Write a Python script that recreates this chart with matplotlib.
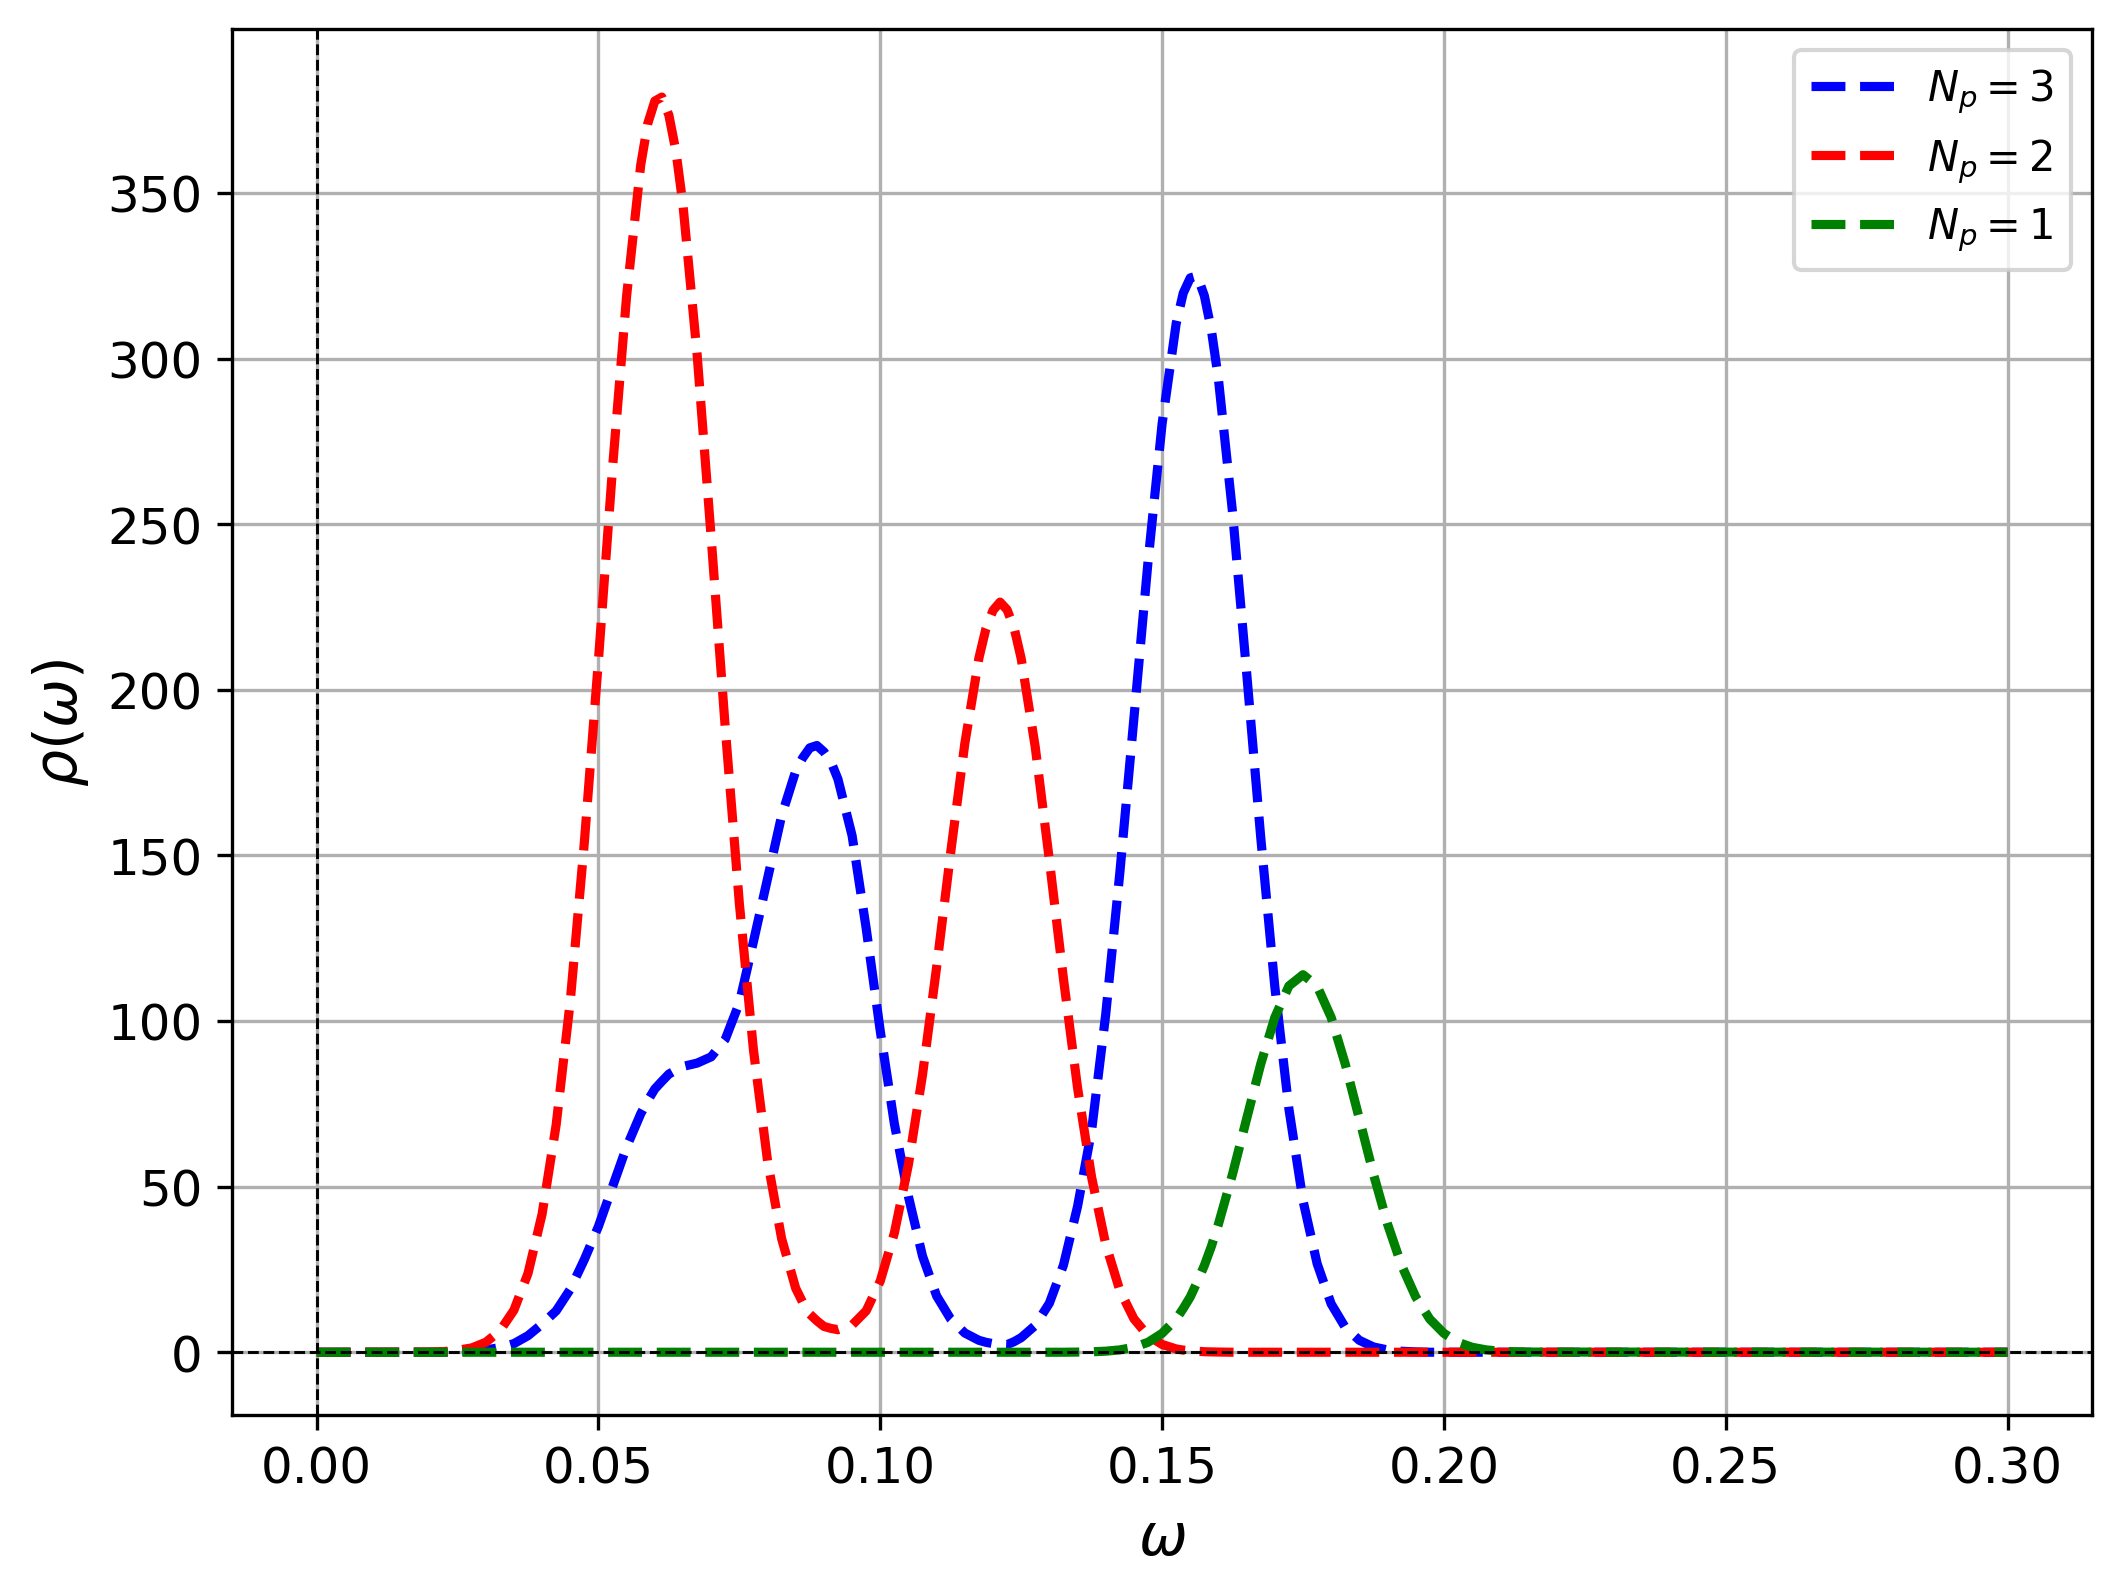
import matplotlib.pyplot as plt

# sample points (denser around the peaks)
omega = [0.0,
         0.0200, 0.0225, 0.0250, 0.0275, 0.0300, 0.0325, 0.0350, 0.0375, 0.0400, 0.0425,
         0.0450, 0.0475, 0.0500, 0.0525, 0.0550, 0.0575, 0.05875, 0.0600, 0.06125, 0.0625, 0.06375, 0.0650, 0.0675,
         0.0700, 0.0725, 0.0750, 0.0775, 0.0800, 0.0825, 0.0850, 0.08625, 0.0875, 0.08875, 0.0900, 0.09125, 0.0925,
         0.0950, 0.0975, 0.1000, 0.1025, 0.1050, 0.1075, 0.1100, 0.1125, 0.1150, 0.1175,
         0.11875, 0.1200, 0.12125, 0.1225, 0.12375, 0.1250, 0.1275, 0.1300, 0.1325, 0.1350, 0.1375, 0.1400, 0.1425,
         0.1450, 0.1475, 0.1500, 0.1525, 0.15375, 0.1550, 0.15625, 0.1575, 0.15875, 0.1600, 0.1625, 0.1650, 0.1675,
         0.1700, 0.1725, 0.1750, 0.1775, 0.1800, 0.1825, 0.1850, 0.1875, 0.1900, 0.1925,
         0.1950, 0.1975, 0.2000, 0.2025, 0.2050, 0.2075, 0.2100, 0.2125, 0.2150,
         0.3]

rho_np3 = [0,
           0, 0, 0.1, 0.3, 0.7, 1.4, 2.6, 5.0, 8.5, 12.5,
           19, 28, 38, 50, 62, 72, 76, 79.5, 81.8, 84, 85.2, 86.3, 87.3,
           89.2, 94.5, 105.5, 124, 143, 162, 175.5, 179.5, 182.5, 183.2, 181.3, 178.3, 173,
           156, 128, 97, 69, 47, 29, 17, 10, 5.8, 3.6,
           3.0, 2.6, 2.4, 2.3, 3.2, 4.4, 8.1, 14.8, 26.3, 44.0, 67, 102, 144.7,
           191.4, 238.6, 280.3, 310.6, 319.8, 324.4, 325, 319, 308.6, 293.8, 253.6, 205.2, 155.5,
           110.4, 73.5, 45.8, 26.8, 14.6, 7.5, 3.6, 1.6, 0.7, 0.3,
           0.1, 0, 0, 0, 0, 0, 0, 0, 0,
           0]

rho_np2 = [0,
           0.1, 0.2, 0.6, 1.3, 3.0, 6.4, 12.7, 23.8, 41.7, 68.7,
           106, 154, 209, 267, 319, 358.5, 371, 377.8, 379, 373.5, 362.6, 346.4, 301.4,
           246, 188.5, 135.5, 91.3, 57.8, 34.3, 19.3, 15, 11.5, 9.5, 7.8, 7.2, 6.8,
           8.2, 12.5, 21.5, 36, 56.7, 83.8, 116.3, 151, 183.8, 209.6,
           218.5, 224, 226.5, 224.2, 218.7, 209.5, 182.7, 148.6, 112.8, 79.9, 52.8, 32.6, 18.7,
           10.1, 5.0, 2.35, 1.0, 0.65, 0.4, 0.28, 0.16, 0.1, 0.06, 0, 0, 0,
           0, 0, 0, 0, 0, 0, 0, 0, 0, 0,
           0, 0, 0, 0, 0, 0, 0, 0, 0,
           0]

rho_np1 = [0,
           0, 0, 0, 0, 0, 0, 0, 0, 0, 0,
           0, 0, 0, 0, 0, 0, 0, 0, 0, 0, 0, 0, 0,
           0, 0, 0, 0, 0, 0, 0, 0, 0, 0, 0, 0, 0,
           0, 0, 0, 0, 0, 0, 0, 0, 0, 0,
           0, 0, 0, 0, 0, 0, 0, 0, 0, 0.05, 0.13, 0.32, 0.71,
           1.5, 3.0, 5.7, 10.0, 13.2, 16.7, 21.3, 26.2, 32, 38.7, 53.8, 70.5, 87.0,
           101.1, 110.6, 114, 110.6, 101.1, 87.0, 70.5, 53.8, 38.7, 26.2,
           16.7, 10.0, 5.7, 3.0, 1.5, 0.71, 0.32, 0.13, 0.05,
           0]

fig, ax = plt.subplots(figsize=(8, 6))

ax.plot(omega, rho_np3, 'b--', lw=2.2, label=r'$N_p = 3$')
ax.plot(omega, rho_np2, 'r--', lw=2.2, label=r'$N_p = 2$')
ax.plot(omega, rho_np1, 'g--', lw=2.2, label=r'$N_p = 1$')

ax.axhline(0, color='k', ls='--', lw=0.7)
ax.axvline(0, color='k', ls='--', lw=0.7)

ax.set_ylim(-19, 399.5)
ax.set_xlabel(r'$\omega$', fontsize=14)
ax.set_ylabel(r'$\rho(\omega)$', fontsize=14)
ax.tick_params(labelsize=12)
ax.legend(loc='upper right')
ax.grid(True)

fig.savefig('out.png', dpi=300, bbox_inches='tight')
